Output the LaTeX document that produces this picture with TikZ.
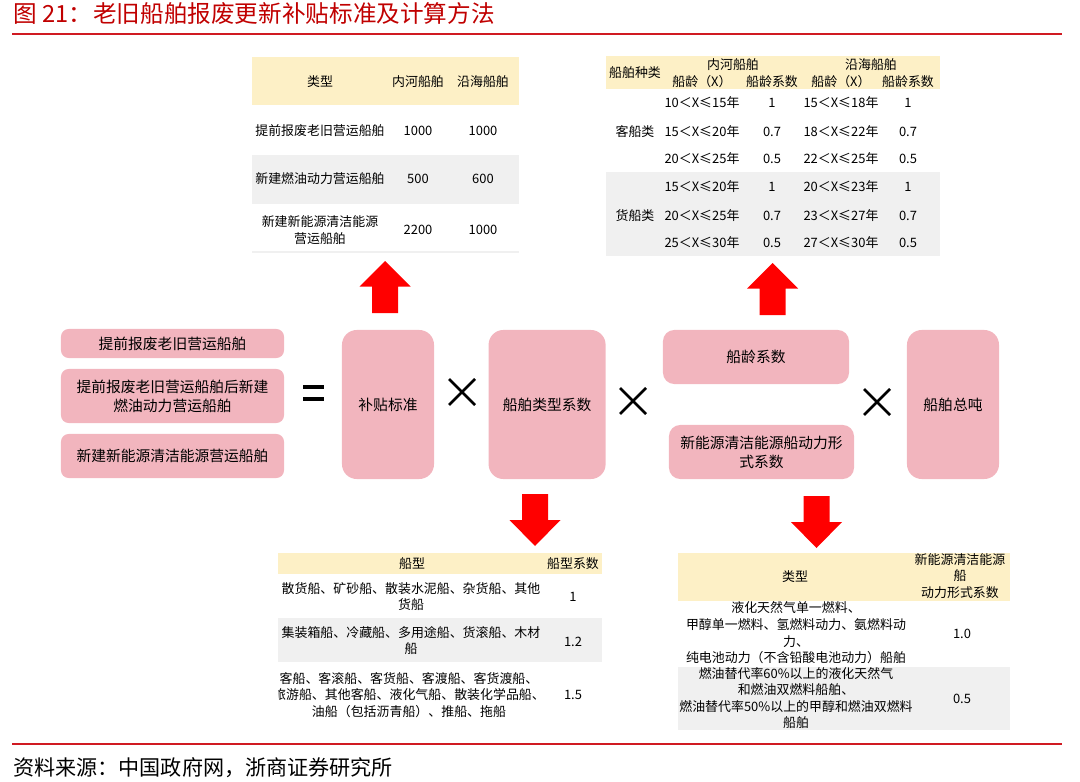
\documentclass[tikz,border=0pt]{standalone}
\usepackage{fontspec}
\setmainfont{Noto Sans CJK SC}
\usetikzlibrary{positioning}

\definecolor{boxpink}{HTML}{F2B5BE}
\definecolor{headyellow}{HTML}{FDF0C6}
\definecolor{rowgray}{HTML}{F0F0F0}
\definecolor{arrowred}{HTML}{FF0000}
\definecolor{titlered}{HTML}{C00000}
\definecolor{rulered}{HTML}{D01A22}

\begin{document}
\begin{tikzpicture}[
		x=0.025cm, y=-0.025cm,
		% --- bloques de la formula ---
		term_left/.style = {fill=boxpink, rectangle, rounded corners=5.5pt, minimum width=5.575cm, align=center, inner sep=0pt, font=\fontsize{10.5}{13.5}\selectfont},
		term_tall/.style = {fill=boxpink, rectangle, rounded corners=10.5pt, minimum width=2.3cm, minimum height=3.725cm, align=center, inner sep=0pt, font=\fontsize{10.5}{13.5}\selectfont},
		term_wide/.style = {fill=boxpink, rectangle, rounded corners=8pt, minimum width=4.65cm, minimum height=1.35cm, align=center, inner sep=0pt, font=\fontsize{10.5}{13.5}\selectfont},
		% --- tablas ---
		cell/.style = {align=center, inner sep=0pt, font=\fontsize{9.2}{11.8}\selectfont},
		head_row/.style = {fill=headyellow},
		gray_row/.style = {fill=rowgray},
		rule/.style = {rulered, line width=1.4pt},
		% --- flechas y signos ---
		arrow_up/.pic = {\fill[arrowred] (0,0) -- (25.5,25.5) -- (13,25.5) -- (13,52) -- (-13,52) -- (-13,25.5) -- (-25.5,25.5) -- cycle;},
		arrow_down/.pic = {\fill[arrowred] (0,0) -- (25.5,-26) -- (13,-26) -- (13,-52) -- (-13,-52) -- (-13,-26) -- (-25.5,-26) -- cycle;},
		sign_times/.pic = {\draw[line width=2pt] (-13,-13) -- (13,13) (-13,13) -- (13,-13);},
		sign_eq/.pic = {\draw[line width=2.2pt] (-10.5,-6) -- (10.5,-6) (-10.5,6) -- (10.5,6);}
		]
		\useasboundingbox (0,0) rectangle (1080,782);
		
		% =========================================================================
		% 1. TITULO Y FUENTE
		% =========================================================================
		\node[anchor=west, inner sep=0pt, text=titlered, font=\fontsize{16.8}{20}\selectfont] (title) at (13,14) {图 21：\hspace{0.05em}老旧船舶报废更新补贴标准及计算方法};
		\draw[rule] (12,34) -- (1062,34);
		\draw[rule] (12,744) -- (1062,744);
		\node[anchor=west, inner sep=0pt, font=\fontsize{15}{18}\selectfont] (source) at (13,768) {资料来源：中国政府网，浙商证券研究所};
		
		% =========================================================================
		% 2. FORMULA
		% =========================================================================
		\node[term_left, minimum height=0.725cm] (scrap) at (172.5,343.5) {提前报废老旧营运船舶};
		\node[term_left, minimum height=1.35cm] (scrapnew) at (172.5,396) {提前报废老旧营运船舶后新建\\燃油动力营运船舶};
		\node[term_left, minimum height=1.1cm] (newclean) at (172.5,456) {新建新能源清洁能源营运船舶};
		
		\node[term_tall] (standard) at (388,404.5) {补贴标准};
		\node[term_tall, minimum width=2.925cm, right=1.35cm of standard] (shiptype) {船舶类型系数};
		\node[term_wide] (agecoef) at (756,357) {船龄系数};
		\node[term_wide, minimum width=4.625cm] (powercoef) at (761.5,452) {新能源清洁能源船动力形\\式系数};
		\node[term_tall] (tonnage) at (953,404.5) {船舶总吨};
		
		\pic at (313.5,393) {sign_eq};
		\pic at (462,392) {sign_times};
		\pic at (633,401) {sign_times};
		\pic at (877,402) {sign_times};
		
		% flechas hacia las tablas
		\pic at (385,261) {arrow_up};
		\pic at (772.5,263) {arrow_up};
		\pic at (535,546) {arrow_down};
		\pic at (816.5,548) {arrow_down};
		
		% =========================================================================
		% 3. TABLA DE SUBSIDIOS (arriba izquierda)
		% =========================================================================
		\fill[head_row] (252,57) rectangle (519,105);
		\fill[gray_row] (252,155) rectangle (519,204);
		\draw[rowgray, line width=0.8pt] (252,252) -- (519,252);
		\node[cell] (subsidy_h1) at (320,82) {类型};
		\node[cell] (subsidy_h2) at (418,82) {内河船舶};
		\node[cell] (subsidy_h3) at (483,82) {沿海船舶};
		\foreach \y/\kind/\river/\coast [count=\i] in {131/提前报废老旧营运船舶/1000/1000, 179/新建燃油动力营运船舶/500/600, 230/{新建新能源清洁能源\\营运船舶}/2200/1000} {
			\node[cell] (subsidy_k\i) at (320,\y) {\kind};
			\node[cell] (subsidy_r\i) at (418,\y) {\river};
			\node[cell] (subsidy_c\i) at (483,\y) {\coast};
		}
		
		% =========================================================================
		% 4. TABLA DE EDAD (arriba derecha)
		% =========================================================================
		\fill[head_row] (606,56) rectangle (940,89);
		\fill[gray_row] (606,172) rectangle (940,256);
		\node[cell] (age_h0) at (635,73) {船舶种类};
		\node[cell] (age_h1) at (733,65) {内河船舶};
		\node[cell] (age_h2) at (871,65) {沿海船舶};
		\foreach \x/\t [count=\i] in {702/船龄（X）, 772/船龄系数, 841/船龄（X）, 908/船龄系数}
			\node[cell] (age_s\i) at (\x,82) {\t};
		\node[cell] (age_pass) at (635,132) {客船类};
		\node[cell] (age_cargo) at (635,216) {货船类};
		\foreach \y/\ra/\ca/\rb/\cb [count=\i] in {103/10＜X≤15年/1/15＜X≤18年/1, 132/15＜X≤20年/0.7/18＜X≤22年/0.7, 159/20＜X≤25年/0.5/22＜X≤25年/0.5, 187/15＜X≤20年/1/20＜X≤23年/1, 216/20＜X≤25年/0.7/23＜X≤27年/0.7, 243/25＜X≤30年/0.5/27＜X≤30年/0.5} {
			\node[cell] (age_ra\i) at (702,\y) {\ra};
			\node[cell] (age_ca\i) at (772,\y) {\ca};
			\node[cell] (age_rb\i) at (841,\y) {\rb};
			\node[cell] (age_cb\i) at (908,\y) {\cb};
		}
		
		% =========================================================================
		% 5. TABLA DE TIPO DE BUQUE (abajo izquierda)
		% =========================================================================
		\begin{scope}
			\clip (278,553) rectangle (602,722);
			\fill[head_row] (278,553) rectangle (602,574);
			\fill[gray_row] (278,618) rectangle (602,662);
			\node[cell] (kind_h1) at (412,564) {船型};
			\node[cell] (kind_h2) at (573,564) {船型系数};
			\node[cell] (kind_r1) at (411,596.5) {散货船、矿砂船、散装水泥船、杂货船、其他\\货船};
			\node[cell] (kind_c1) at (573,597) {1};
			\node[cell] (kind_r2) at (411,640.5) {集装箱船、冷藏船、多用途船、货滚船、木材\\船};
			\node[cell] (kind_c2) at (573,642) {1.2};
			\node[cell] (kind_r3) at (409,695) {客船、客滚船、客货船、客渡船、客货渡船、\\旅游船、其他客船、液化气船、散装化学品船、\\油船（包括沥青船）、推船、拖船};
			\node[cell] (kind_c3) at (573,695) {1.5};
		\end{scope}
		
		% =========================================================================
		% 6. TABLA DE FORMA DE PROPULSION (abajo derecha)
		% =========================================================================
		\fill[head_row] (678,553) rectangle (1010,601);
		\fill[gray_row] (678,667) rectangle (1010,730);
		\node[cell] (power_h1) at (795,577) {类型};
		\node[cell] (power_h2) at (960,576) {新能源清洁能源\\船\\动力形式系数};
		\node[cell] (power_r1) at (796,633) {液化天然气单一燃料、\\甲醇单一燃料、氢燃料动力、氨燃料动\\力、\\纯电池动力（不含铅酸电池动力）船舶};
		\node[cell] (power_c1) at (962,634) {1.0};
		\node[cell] (power_r2) at (796,698) {燃油替代率60\%以上的液化天然气\\和燃油双燃料船舶、\\燃油替代率50\%以上的甲醇和燃油双燃料\\船舶};
		\node[cell] (power_c2) at (962,699) {0.5};
		
	\end{tikzpicture}
\end{document}
